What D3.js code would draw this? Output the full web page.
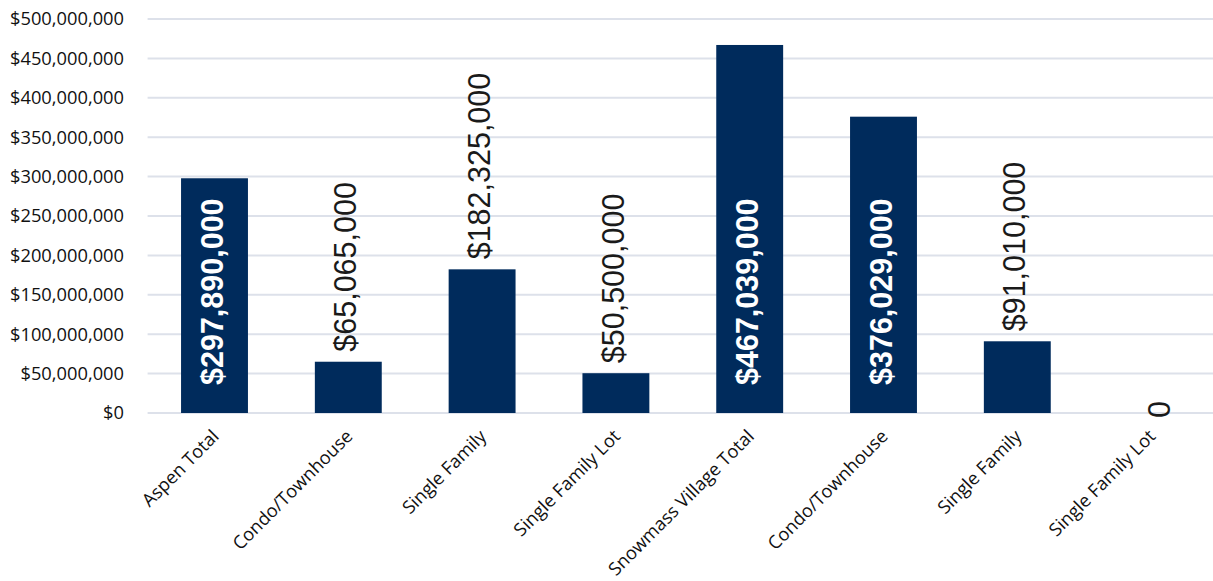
<!DOCTYPE html>
<html>
<head>
<meta charset="utf-8">
<script src="https://cdn.jsdelivr.net/npm/d3@7"></script>
<style>
  html, body { margin: 0; padding: 0; background: #ffffff; }
  svg { display: block; }
</style>
</head>
<body>
<svg id="chart" width="1213" height="581"></svg>
<script>
// Sales volume by segment, Aspen and Snowmass Village
const categories = [
  "Aspen Total", "Condo/Townhouse", "Single Family", "Single Family Lot",
  "Snowmass Village Total", "Condo/Townhouse", "Single Family", "Single Family Lot"
];
const values = [297890000, 65065000, 182325000, 50500000, 467039000, 376029000, 91010000, 0];
// Totals carry their label inside the bar
const isTotal = [true, false, false, false, true, true, false, false];
const yTicks = [0, 50000000, 100000000, 150000000, 200000000, 250000000, 300000000, 350000000, 400000000, 450000000, 500000000];

const svg = d3.select("#chart");
const W = 1213, H = 581;
const margin = { top: 19, right: -5, bottom: 168, left: 147.6 };

const keys = categories.map((c, i) => i);
const x = d3.scaleBand()
  .domain(keys)
  .range([margin.left, W - margin.right])
  .paddingInner(0.5)
  .paddingOuter(0.25);

const y = d3.scaleLinear()
  .domain([0, 500000000])
  .range([H - margin.bottom, margin.top]);

const money = d3.format("$,.0f");
const navy = "#002b5c";

// Gridlines
svg.append("g")
  .selectAll("line")
  .data(yTicks)
  .join("line")
  .attr("x1", margin.left)
  .attr("x2", W)
  .attr("y1", d => y(d))
  .attr("y2", d => y(d))
  .attr("stroke", "#dde1ea")
  .attr("stroke-width", 2);

// Y axis labels
const yAxis = d3.axisLeft(y)
  .tickValues(yTicks)
  .tickFormat(money)
  .tickSize(0)
  .tickPadding(0);
const yg = svg.append("g")
  .attr("transform", `translate(124,0)`)
  .call(yAxis);
yg.select(".domain").remove();
yg.selectAll("text")
  .attr("font-family", "'Open Sans', sans-serif")
  .attr("font-size", 18.3)
  .attr("fill", "#111");

// Bars
svg.append("g")
  .selectAll("rect")
  .data(values)
  .join("rect")
  .attr("x", (d, i) => x(i))
  .attr("width", x.bandwidth())
  .attr("y", d => y(d))
  .attr("height", d => y(0) - y(d))
  .attr("fill", navy);

// Value labels
svg.append("g")
  .selectAll("text")
  .data(values)
  .join("text")
  .attr("font-family", "'Liberation Sans', Arial, sans-serif")
  .attr("font-size", 30.5)
  .attr("dominant-baseline", "middle")
  .attr("fill", (d, i) => isTotal[i] ? "#ffffff" : "#1a1a1a")
  .attr("font-weight", (d, i) => isTotal[i] ? "bold" : "normal")
  .attr("text-anchor", "start")
  .attr("transform", (d, i) => {
    const cx = x(i) + x.bandwidth() / 2;
    let cy;
    if (isTotal[i]) cy = y(0) - 28;
    else if (d === 0) cy = y(0) + 5;
    else cy = y(d) - 10;
    const dx = d === 0 ? 11 : 0;
    return `translate(${cx + dx},${cy}) rotate(-90)`;
  })
  .text(d => d === 0 ? "0" : money(d));

// Category labels
const xAxis = d3.axisBottom(x)
  .tickFormat(i => categories[i])
  .tickSize(0)
  .tickPadding(0);
const xg = svg.append("g")
  .attr("transform", `translate(0,${y(0)})`)
  .call(xAxis);
xg.select(".domain").remove();
xg.selectAll("text")
  .attr("font-family", "'Open Sans', sans-serif")
  .attr("font-size", 18.2)
  .attr("fill", "#111")
  .attr("text-anchor", "end")
  .attr("dy", null)
  .attr("y", null)
  .attr("dominant-baseline", "middle")
  .attr("transform", "translate(2,21) rotate(-45)");
</script>
</body>
</html>
